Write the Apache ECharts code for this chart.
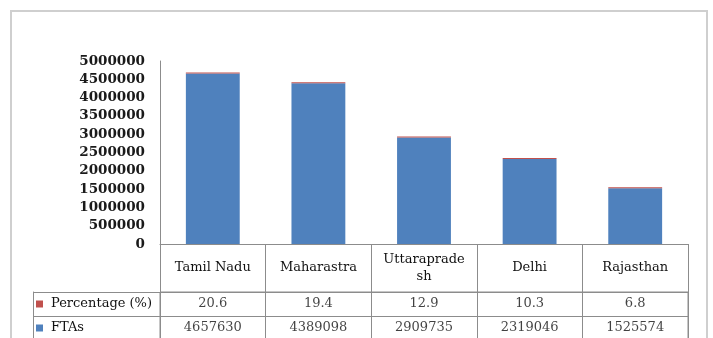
<!DOCTYPE html>
<html>
<head>
<meta charset="utf-8">
<script src="https://cdn.jsdelivr.net/npm/echarts@6/dist/echarts.min.js"></script>
<style>
  html, body { margin: 0; padding: 0; background: #fff; }
  #chart { width: 713px; height: 338px; }
</style>
</head>
<body>
<div id="chart"></div>
<script>
// categories (states) and the two series
const categories = ['Tamil Nadu', 'Maharastra', 'Uttarapradesh', 'Delhi', 'Rajasthan'];
const ftas = [4657630, 4389098, 2909735, 2319046, 1525574];
const percentage = [20.6, 19.4, 12.9, 10.3, 6.8];
// table row names (legend keys)
const rowNames = ['Percentage (%)', 'FTAs'];
// value axis range
const yMin = 0;
const yMax = 5000000;
const yStep = 500000;

const blue = '#4F81BD';
const red = '#C0504D';
const lineGray = '#8c8c8c';
const serif = 'DejaVu Serif';

const chart = echarts.init(document.getElementById('chart'));

// table cells: one point per cell, text comes from the arrays
const cellData = [];
categories.forEach((c, i) => {
  cellData.push({ value: [i, 0], text: String(percentage[i]) });
  cellData.push({ value: [i, 1], text: String(ftas[i]) });
});

const option = {
  animation: false,
  backgroundColor: '#fff',
  graphic: [{
    type: 'rect',
    shape: { x: 11, y: 11, width: 696, height: 400 },
    style: { fill: 'none', stroke: '#cfcfcf', lineWidth: 2 },
    silent: true
  }],
  grid: [
    // chart area
    { left: 160, right: 25, top: 61, bottom: 94, outerBoundsMode: 'none' },
    // data table rows (runs past the bottom edge, like the reference)
    { left: 160, right: 25, top: 292, height: 48, outerBoundsMode: 'none', show: true, borderColor: lineGray, borderWidth: 1 }
  ],
  xAxis: [
    {
      gridIndex: 0,
      type: 'category',
      data: categories,
      axisLine: { show: true, lineStyle: { color: lineGray } },
      // ticks at the category edges make the header dividers
      axisTick: { show: true, length: 48, interval: 0, lineStyle: { color: lineGray } },
      axisLabel: {
        interval: 0,
        margin: 24,
        verticalAlign: 'middle',
        color: '#111',
        fontFamily: serif,
        fontSize: 13,
        lineHeight: 17,
        width: 83,
        overflow: 'breakAll'
      }
    },
    {
      gridIndex: 1,
      type: 'category',
      data: categories,
      axisLine: { show: false },
      axisTick: { show: false },
      axisLabel: { show: false },
      splitLine: { show: true, interval: 0, lineStyle: { color: lineGray } }
    }
  ],
  yAxis: [
    {
      gridIndex: 0,
      type: 'value',
      min: yMin,
      max: yMax,
      interval: yStep,
      axisLine: { show: true, lineStyle: { color: lineGray } },
      axisTick: { show: false },
      splitLine: { show: false },
      axisLabel: {
        margin: 15,
        color: '#1a1a1a',
        fontFamily: serif,
        fontWeight: 'bold',
        fontSize: 13.5,
        formatter: function (v) { return String(v); }
      }
    },
    {
      gridIndex: 1,
      type: 'category',
      data: rowNames,
      inverse: true,
      axisLine: { show: false },
      // ticks extended to the left form the legend column borders
      axisTick: { show: true, length: 127, interval: 0, lineStyle: { color: lineGray } },
      splitLine: { show: true, interval: 0, lineStyle: { color: lineGray } },
      axisLabel: {
        align: 'left',
        margin: 124,
        color: '#111',
        fontFamily: serif,
        fontSize: 13,
        formatter: function (v) {
          const key = v === rowNames[0] ? 'r' : 'b';
          return '{' + key + '|}{t|' + v + '}';
        },
        rich: {
          r: { width: 7, height: 7, backgroundColor: red },
          b: { width: 7, height: 7, backgroundColor: blue },
          t: { padding: [0, 0, 0, 8], fontFamily: serif, fontSize: 13, color: '#111' }
        }
      }
    },
    {
      // left edge of the legend column
      gridIndex: 1,
      type: 'category',
      data: rowNames,
      position: 'left',
      offset: 127,
      axisLine: { show: true, lineStyle: { color: lineGray } },
      axisTick: { show: false },
      axisLabel: { show: false }
    }
  ],
  series: [
    {
      name: 'FTAs',
      type: 'bar',
      stack: 'total',
      xAxisIndex: 0,
      yAxisIndex: 0,
      data: ftas,
      barCategoryGap: '49%',
      itemStyle: { color: blue }
    },
    {
      name: 'Percentage (%)',
      type: 'bar',
      stack: 'total',
      xAxisIndex: 0,
      yAxisIndex: 0,
      data: percentage,
      barMinHeight: 1,
      itemStyle: { color: red }
    },
    {
      type: 'scatter',
      xAxisIndex: 1,
      yAxisIndex: 1,
      symbolSize: 0,
      data: cellData,
      label: {
        show: true,
        position: 'inside',
        color: '#111',
        fontFamily: serif,
        fontSize: 13,
        formatter: function (p) { return p.data.text; }
      }
    }
  ]
};

chart.setOption(option);
</script>
</body>
</html>
